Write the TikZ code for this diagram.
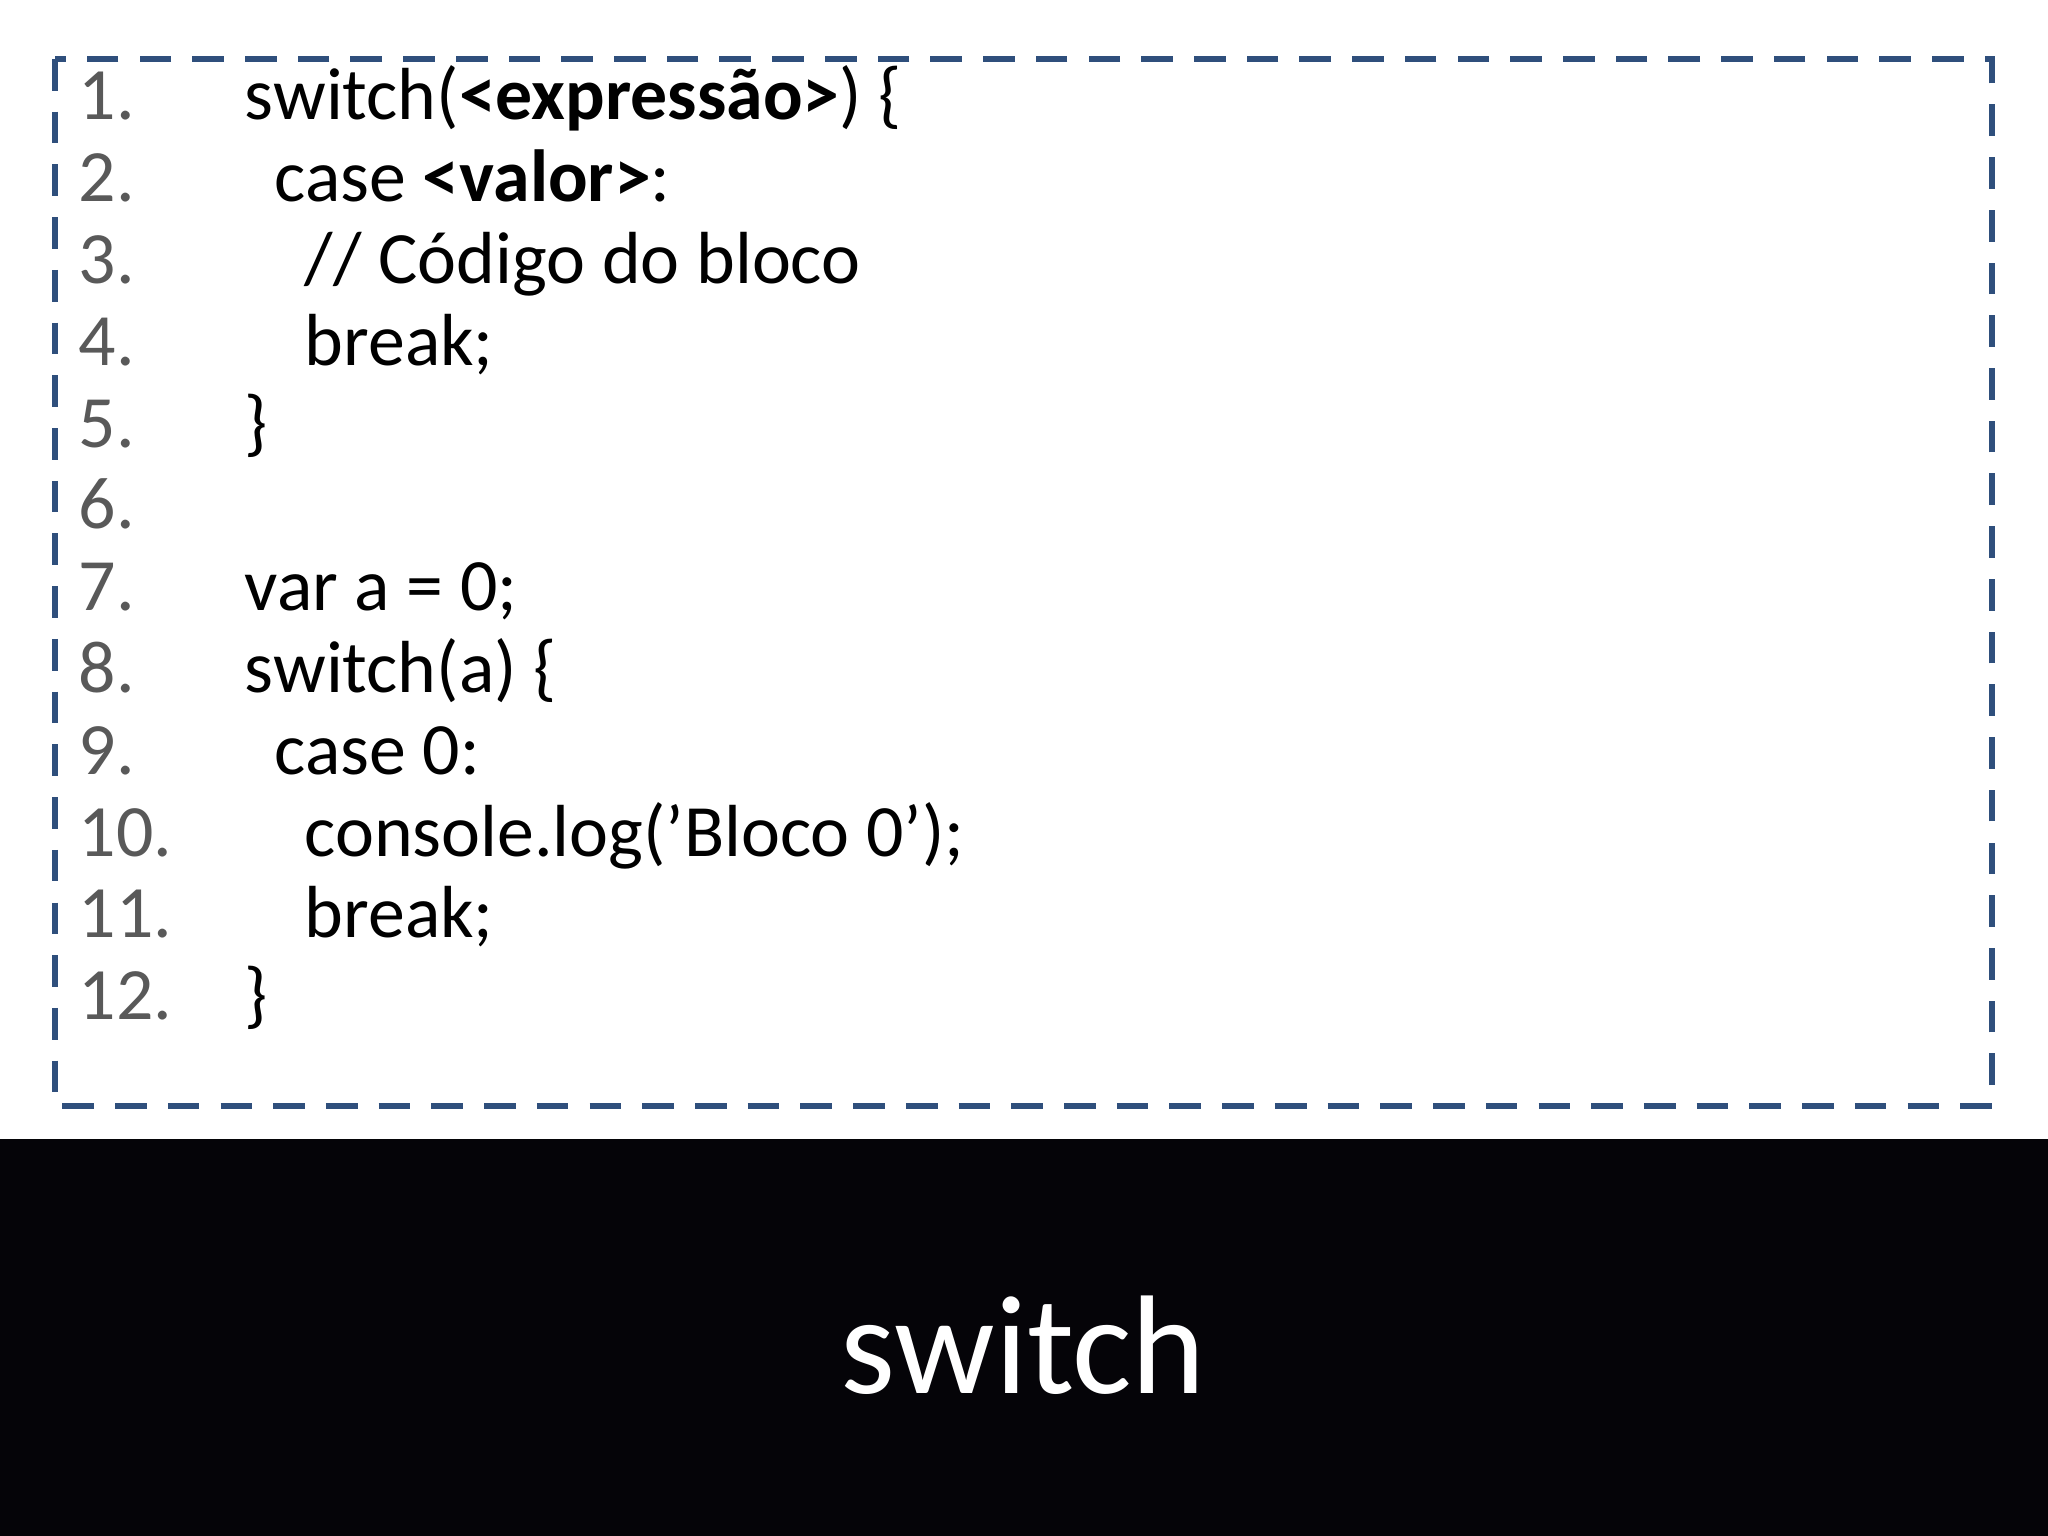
\documentclass[tikz,border=0pt]{standalone}
\usepackage{fontspec}
\setmainfont{Carlito}
\usetikzlibrary{positioning}
\definecolor{boxblue}{RGB}{47,79,124}
\definecolor{numgrey}{RGB}{89,89,89}
\definecolor{band}{RGB}{5,4,8}
\begin{document}
\begin{tikzpicture}
	[
		x = 1cm, y = 1cm,
		numtext/.style  = {anchor=base west, inner sep=0pt, text=numgrey, font=\fontsize{21}{21}\selectfont},
		codetext/.style = {anchor=base west, inner sep=0pt, text=black, font=\fontsize{21}{21}\selectfont}
	]
	\useasboundingbox (0,0) rectangle (20.48,-15.36);
	\fill[white] (0,0) rectangle (20.48,-15.36);
	% code box
	\draw[boxblue, line width=1.6pt, dash pattern=on 9pt off 6pt] (0.55,-0.59) rectangle (19.92,-11.06);
	\foreach \i/\ind/\txt in {
		1/0/{switch(\textbf{<expressão>}) \{},
		2/1/{case \textbf{<valor>}:},
		3/2/{// Código do bloco},
		4/2/{break;},
		5/0/{\}},
		6/0/{},
		7/0/{var a = 0;},
		8/0/{switch(a) \{},
		9/1/{case 0:},
		10/2/{console.log('Bloco 0');},
		11/2/{break;},
		12/0/{\}}}
	{
		\node[numtext]  (n\i) at (0.78,{-1.20-0.818*(\i-1)}) {\i.};
		\node[codetext] (c\i) at ({2.44+0.30*\ind},{-1.20-0.818*(\i-1)}) {\txt};
	}
	% title band
	\fill[band] (0,-11.39) rectangle (20.48,-15.36);
	\node[text=white, font=\fontsize{40}{40}\selectfont] (title) at (10.23,-13.45) {switch};
\end{tikzpicture}
\end{document}
